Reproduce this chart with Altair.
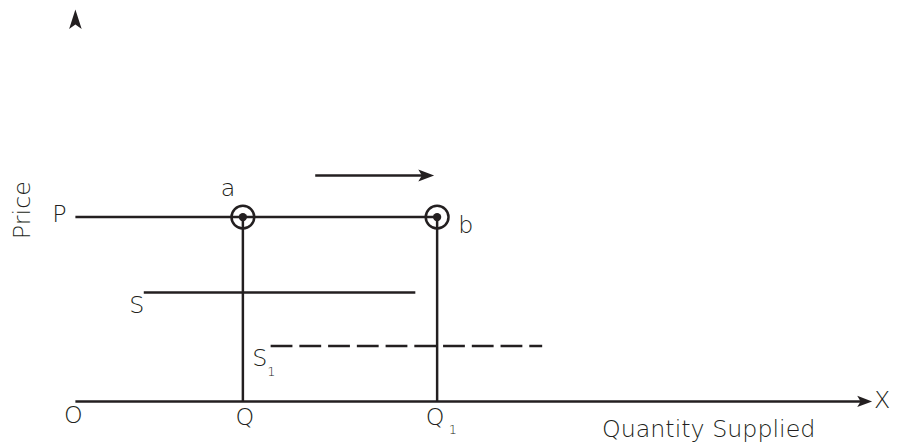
import altair as alt
import pandas as pd

# ---- data (diagram units: 1 unit ~ 4 px, origin O at (0, 0)) ----
# horizontal solid segments: price line P, supply S, x axis
h_names = ["P", "S", "Xaxis"]
h_x0 = [0, 17.25, 0]
h_x1 = [91.25, 85.75, 199]
h_y = [46.5, 27.5, 0]

# dashed supply line S1
d_x0 = [49.25]
d_x1 = [117.75]
d_y = [14]

# vertical drop lines from a and b to Q and Q1
v_x = [42.25, 91.25]
v_y0 = [0, 0]
v_y1 = [46.5, 46.5]

# equilibrium points a and b
pt_x = [42.25, 91.25]
pt_y = [46.5, 46.5]

# movement arrow (shaft) above the price line
arr_x0 = [60.5]
arr_x1 = [89]
arr_y = [57]

# arrowheads: y-axis tip, x-axis tip, movement arrow tip
head_up_x = [0]
head_up_y = [96.4]
head_right_x = [199.1, 88.5]
head_right_y = [0, 57]
head_right_size = [225, 256]

# text labels
lab_text = ["Price", "P", "a", "b", "S", "S", "O", "Q", "Q", "X", "Quantity Supplied"]
lab_x = [-13.25, -4, 38.5, 98.5, 15.5, 46.5, -0.5, 42.75, 90.75, 203.5, 159.75]
lab_y = [48.25, 47, 53.5, 44.25, 24, 10.75, -3.75, -4.25, -4.25, 0, -7.25]
lab_angle = [270, 0, 0, 0, 0, 0, 0, 0, 0, 0, 0]

sub_text = ["1", "1"]
sub_x = [49.4, 95.2]
sub_y = [7.4, -7.3]

INK = "#231f20"
FONT = "DejaVu Sans"

xs = alt.Scale(domain=[-17, 204.5], nice=False, zero=False)
ys = alt.Scale(domain=[-10.5, 98.75], nice=False, zero=False)

def X(f="x"):
    return alt.X(f, type="quantitative", scale=xs, axis=None)

def Y(f="y"):
    return alt.Y(f, type="quantitative", scale=ys, axis=None)

hdf = pd.DataFrame({"name": h_names, "x": h_x0, "x2": h_x1, "y": h_y})
ddf = pd.DataFrame({"x": d_x0, "x2": d_x1, "y": d_y})
vdf = pd.DataFrame({"x": v_x, "y": v_y0, "y2": v_y1})
pdf = pd.DataFrame({"x": pt_x, "y": pt_y})
adf = pd.DataFrame({"x": arr_x0, "x2": arr_x1, "y": arr_y})
hudf = pd.DataFrame({"x": head_up_x, "y": head_up_y})
hrdf = pd.DataFrame({"x": head_right_x, "y": head_right_y, "s": head_right_size})
ldf = pd.DataFrame({"t": lab_text, "x": lab_x, "y": lab_y, "a": lab_angle})
sdf = pd.DataFrame({"t": sub_text, "x": sub_x, "y": sub_y})

hlines = alt.Chart(hdf).mark_rule(color=INK, strokeWidth=2.5).encode(
    x=X(), x2="x2", y=Y())
dashed = alt.Chart(ddf).mark_rule(color=INK, strokeWidth=2.5, strokeDash=[22, 7]).encode(
    x=X(), x2="x2", y=Y())
vlines = alt.Chart(vdf).mark_rule(color=INK, strokeWidth=2.5).encode(
    x=X(), y=Y(), y2="y2")
shaft = alt.Chart(adf).mark_rule(color=INK, strokeWidth=2.5).encode(
    x=X(), x2="x2", y=Y())

rings = alt.Chart(pdf).mark_point(shape="circle", filled=False, color=INK,
                                  strokeWidth=2.5, size=529, opacity=1).encode(x=X(), y=Y())
dots = alt.Chart(pdf).mark_point(shape="circle", filled=True, color=INK,
                                 size=70, opacity=1).encode(x=X(), y=Y())

head_up = alt.Chart(hudf).mark_point(
    shape="M0,-1 L0.65,1 L0,0.55 L-0.65,1 Z", filled=True, color=INK,
    size=380, opacity=1, strokeWidth=0).encode(x=X(), y=Y())
head_right = alt.Chart(hrdf).mark_point(
    shape="M1,0 L-1,-0.75 L-0.55,0 L-1,0.75 Z", filled=True, color=INK,
    opacity=1, strokeWidth=0).encode(
    x=X(), y=Y(), size=alt.Size("s:Q", scale=None, legend=None))

labels = alt.Chart(ldf).mark_text(font=FONT, fontSize=24, fontWeight=200, color=INK,
                                  align="center", baseline="middle").encode(
    x=X(), y=Y(), text="t:N", angle=alt.Angle("a:Q", scale=None))
subs = alt.Chart(sdf).mark_text(font=FONT, fontSize=13, fontWeight=200, color=INK,
                                align="center", baseline="middle").encode(
    x=X(), y=Y(), text="t:N")

chart = alt.layer(hlines, dashed, vlines, shaft, rings, dots, head_up, head_right,
                  labels, subs).properties(
    width=886, height=437,
    padding={"left": 0, "top": 0, "right": 8, "bottom": 0},
    autosize=alt.AutoSizeParams(type="none"),
).configure_view(stroke=None)

chart.save("out.html", embed_options={"renderer": "svg", "actions": False})
